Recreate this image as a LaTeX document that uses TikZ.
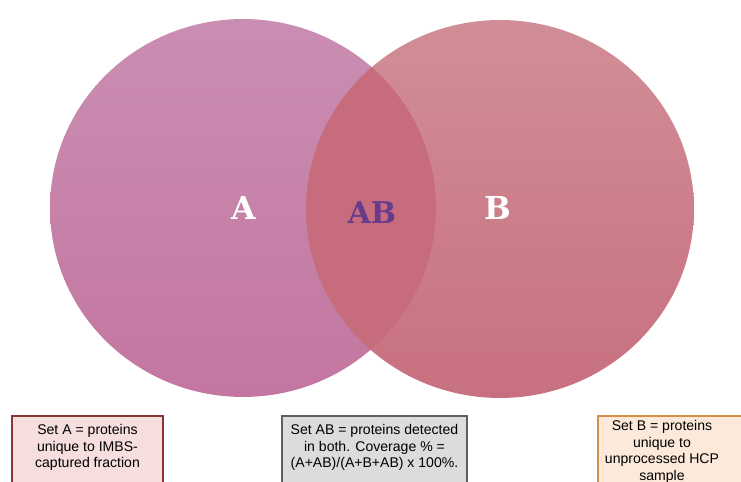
\documentclass[tikz,border=0pt]{standalone}
\usepackage{fontspec}
\setmainfont{Liberation Sans}
\newfontfamily\slabfont{DejaVu Serif}
\usetikzlibrary{positioning}

\definecolor{setAtop}{RGB}{202,142,178}
\definecolor{setAbot}{RGB}{195,118,160}
\definecolor{setBtop}{RGB}{209,142,150}
\definecolor{setBbot}{RGB}{200,112,128}
\definecolor{lensfill}{RGB}{199,108,124}
\definecolor{abpurple}{RGB}{104,58,140}

\begin{document}
\begin{tikzpicture}[
        x=0.02cm, y=0.02cm,
        set label/.style={font=\slabfont\bfseries\fontsize{18}{20}\selectfont, text=white},
        legend box/.style={draw, line width=1.3pt, anchor=north, minimum height=2cm},
        legend text/.style={font=\fontsize{8}{9.5}\selectfont, align=center, anchor=north, inner sep=0pt},
      ]
      \useasboundingbox (0,0) rectangle (741,-482);
      \clip (0,0) rectangle (741,-482);

      % the two sets
      \shade[top color=setAtop, bottom color=setAbot] (243,-208) ellipse [x radius=3.86cm, y radius=3.78cm];
      \shade[top color=setBtop, bottom color=setBbot] (500,-209) ellipse [x radius=3.88cm, y radius=3.78cm];
      \begin{scope}
        \clip (243,-208) ellipse [x radius=3.86cm, y radius=3.78cm];
        \fill[lensfill] (500,-209) ellipse [x radius=3.88cm, y radius=3.78cm];
      \end{scope}

      \node[set label] (labA) at (244,-208) {A};
      \node[set label, text=abpurple, font=\slabfont\bfseries\fontsize{17}{20}\selectfont] (labAB) at (372,-213) {AB};
      \node[set label] (labB) at (498,-208) {B};

      % legend boxes
      \node[legend box, fill={rgb,255:red,246;green,221;blue,222}, draw={rgb,255:red,138;green,52;blue,52},
            minimum width=3.02cm] (boxA) at (87.5,-415) {};
      \node[legend text] (textA) at ([yshift=-5]boxA.north)
            {Set A = proteins\\unique to IMBS-\\captured fraction};

      \node[legend box, fill={rgb,255:red,220;green,220;blue,220}, draw={rgb,255:red,95;green,95;blue,95},
            minimum width=3.7cm] (boxAB) at (374.5,-415) {};
      \node[legend text] (textAB) at ([yshift=-5]boxAB.north)
            {Set AB = proteins detected\\in both. Coverage \% =\\(A+AB)/(A+B+AB) x 100\%.};

      \node[legend box, fill={rgb,255:red,252;green,233;blue,217}, draw={rgb,255:red,214;green,142;blue,72},
            minimum width=3.2cm] (boxB) at (678,-415) {};
      \node[legend text] (textB) at (662,-420)
            {Set B = proteins\\unique to\\unprocessed HCP\\sample};
      \end{tikzpicture}
\end{document}
